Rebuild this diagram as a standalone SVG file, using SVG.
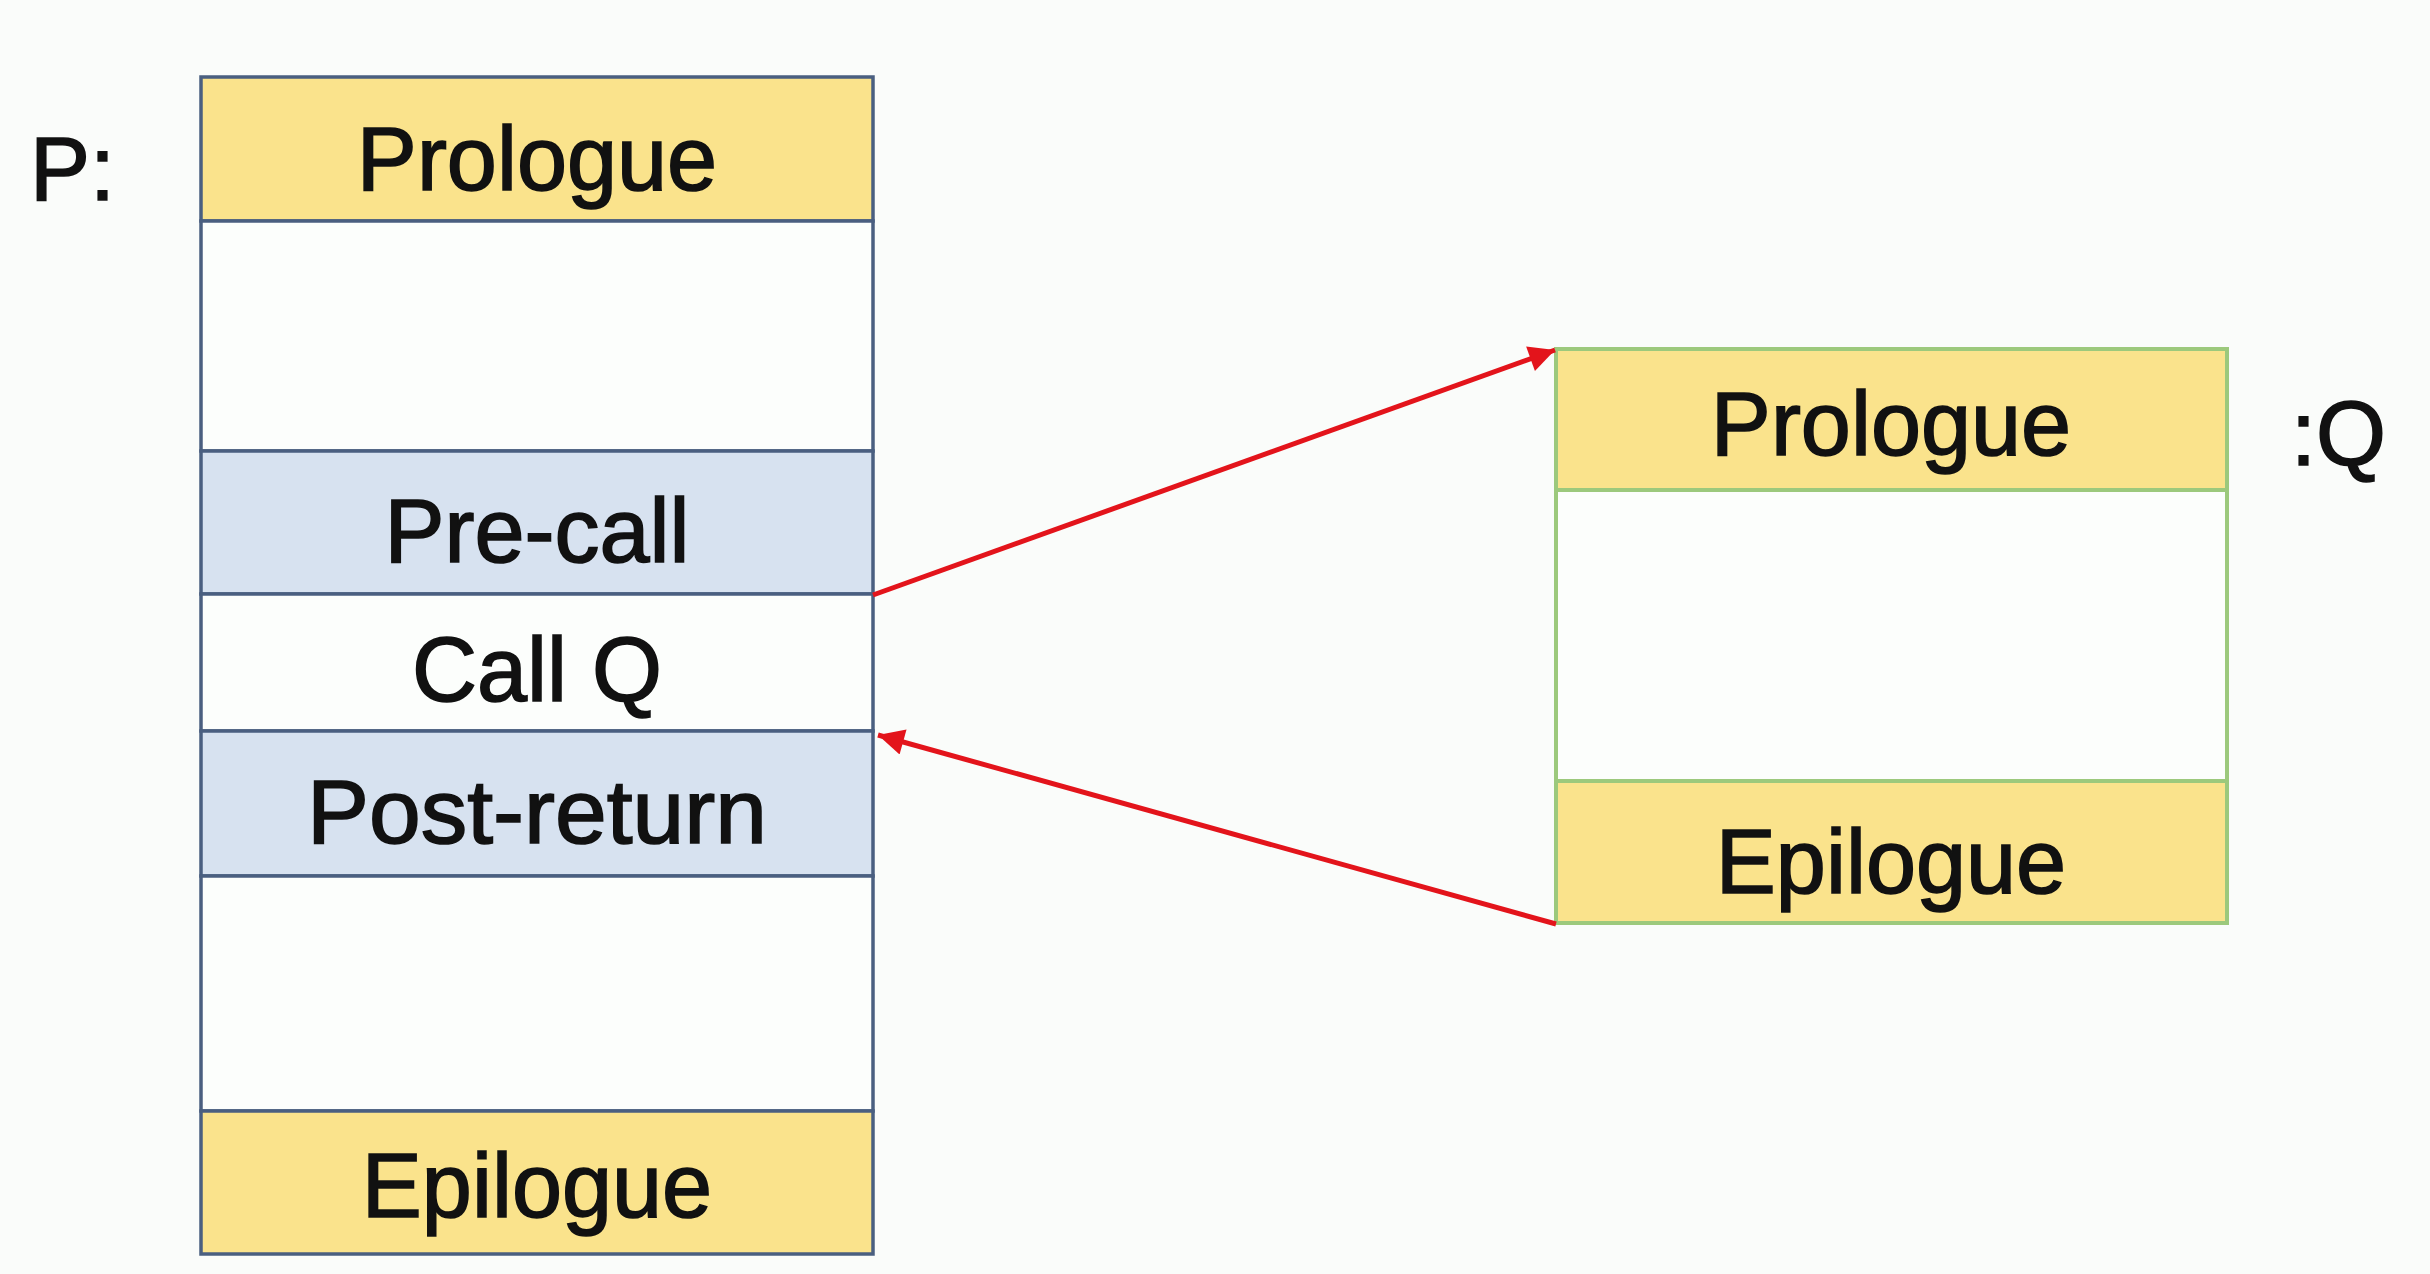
<svg xmlns="http://www.w3.org/2000/svg" width="2430" height="1274" viewBox="0 0 2430 1274">
<defs>
<style>
.lbl{font-family:"Liberation Sans",Arial,sans-serif;font-size:90px;fill:#111;stroke:#111;stroke-width:1.6;text-anchor:middle}
.side{font-family:"Liberation Sans",Arial,sans-serif;font-size:90px;fill:#111;stroke:#111;stroke-width:1.6}
.p{stroke:#4A5F80;stroke-width:3.5}
.q{stroke:#9CC97C;stroke-width:4}
.yel{fill:#FAE38C}
.blu{fill:#D7E2F0}
.wht{fill:#FCFEFC}
.conn{stroke:#E3141B;stroke-width:5;fill:none}
</style>
<marker id="ah" viewBox="0 0 10 10" refX="10" refY="5" markerWidth="34" markerHeight="26" markerUnits="userSpaceOnUse" orient="auto">
<path d="M0,0 L10,5 L0,10 z" fill="#E3141B"/>
</marker>
</defs>
<rect x="0" y="0" width="2430" height="1274" fill="#FAFCFA"/>

<g id="P">
<text class="side" x="30" y="200">P:</text>
<rect class="yel p" x="201" y="77" width="672" height="144"/>
<text class="lbl" x="537" y="190">Prologue</text>
<rect class="wht p" x="201" y="221" width="672" height="230"/>
<rect class="blu p" x="201" y="451" width="672" height="143"/>
<text class="lbl" x="537" y="562">Pre-call</text>
<rect class="wht p" x="201" y="594" width="672" height="137"/>
<text class="lbl" x="537" y="701">Call Q</text>
<rect class="blu p" x="201" y="731" width="672" height="145"/>
<text class="lbl" x="537" y="843" textLength="460" lengthAdjust="spacingAndGlyphs">Post-return</text>
<rect class="wht p" x="201" y="876" width="672" height="235"/>
<rect class="yel p" x="201" y="1111" width="672" height="143"/>
<text class="lbl" x="537" y="1217">Epilogue</text>
</g>

<g id="Q">
<rect class="yel q" x="1556" y="349" width="671" height="141"/>
<text class="lbl" x="1891" y="455">Prologue</text>
<rect class="wht q" x="1556" y="490" width="671" height="291"/>
<rect class="yel q" x="1556" y="781" width="671" height="142"/>
<text class="lbl" x="1891" y="893">Epilogue</text>
<text class="side" x="2291" y="465">:Q</text>
</g>

<g id="connectors">
<line class="conn" x1="873" y1="595" x2="1555" y2="350" marker-end="url(#ah)"/>
<line class="conn" x1="1556" y1="924" x2="878" y2="735" marker-end="url(#ah)"/>
</g>
</svg>
